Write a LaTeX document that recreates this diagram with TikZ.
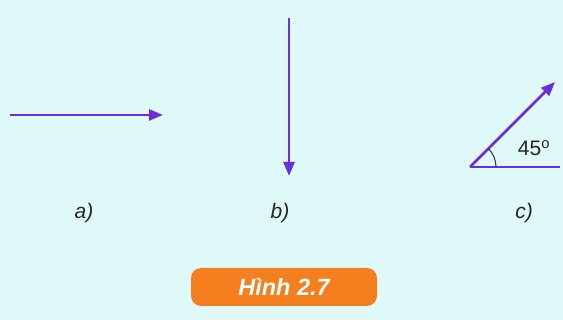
\documentclass[tikz,border=0pt]{standalone}
\usepackage{fontspec}
\setmainfont{Liberation Sans}
\usetikzlibrary{arrows.meta}
\definecolor{bgc}{HTML}{DFF8F8}
\definecolor{vec}{HTML}{6A2FDA}
\definecolor{org}{HTML}{F57F1F}
\tikzset{
  vecline/.style={draw=vec, line width=2.6pt, -{Triangle[length=14pt,width=11pt]}},
  plain/.style={draw=vec, line width=1.6pt},
  lbl/.style={font=\itshape\fontsize{21}{24}\selectfont, text=black!85},
}
\begin{document}
\begin{tikzpicture}[x=1pt,y=-1pt]
\fill[bgc] (0,0) rectangle (563,320);
\useasboundingbox (0,0) rectangle (563,320);
% a)
\coordinate (a1) at (10,115);
\coordinate (a2) at (163,115);
\draw[vecline] (a1) -- (a2);
% b)
\coordinate (b1) at (289,18);
\coordinate (b2) at (289,176);
\draw[vecline] (b1) -- (b2);
% c)
\coordinate (o) at (470,167);
\coordinate (c2) at (555,82);
\coordinate (h) at (560,167);
\draw[plain] (o) -- (h);
\draw[vecline] (o) -- (c2);
\draw[black!80, line width=1pt] ([xshift=26pt]o) arc[start angle=0, end angle=45, radius=26pt];
\node[font=\fontsize{21}{24}\selectfont, text=black!85] (ang) at (534,148) {45$^{\mathrm{o}}$};
% labels
\node[lbl] (la) at (84,213) {a)};
\node[lbl] (lb) at (280,213) {b)};
\node[lbl] (lc) at (524,213) {c)};
% title
\node[fill=org, rounded corners=10pt, minimum width=186pt, minimum height=38pt, text=white, font=\bfseries\itshape\fontsize{23.5}{26}\selectfont] (fig) at (284,287) {Hình 2.7};
\end{tikzpicture}
\end{document}
